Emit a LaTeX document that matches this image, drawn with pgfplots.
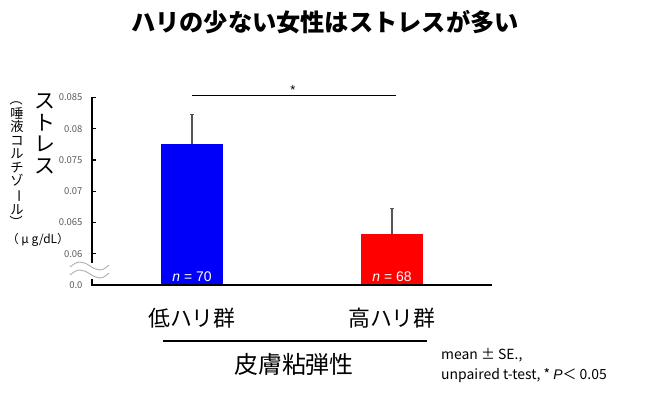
\documentclass[border=0pt]{standalone}
\usepackage{fontspec}
\setmainfont{Noto Sans CJK JP}
\newfontfamily\lat{Liberation Sans}
\usepackage{graphicx}
\usepackage{pgfplots}
\pgfplotsset{compat=1.18}
\usepackage{pgfplotstable}
\definecolor{barblue}{RGB}{0,0,250}
\definecolor{barred}{RGB}{255,0,0}
\definecolor{errgray}{RGB}{85,85,85}
\definecolor{tickgray}{RGB}{90,90,90}
\definecolor{wavegray}{RGB}{175,175,175}

\pgfplotstableread{
x y e
1 0.0776 0.0047
}\lowtab
\pgfplotstableread{
x y e
3 0.0632 0.0040
}\hightab

\begin{document}
\begin{tikzpicture}
\useasboundingbox (0,0) rectangle (650bp,398bp);
\begin{axis}[
  at={(92bp,113bp)}, anchor=south west,
  scale only axis, width=400bp, height=187.5bp,
  xmin=0, xmax=4, ymin=0.055, ymax=0.085,
  axis line style={draw=none},
  xtick=\empty,
  ytick={0.055,0.06,0.065,0.07,0.075,0.08,0.085},
  yticklabels={0.0,0.06,0.065,0.07,0.075,0.08,0.085},
  scaled y ticks=false,
  ytick pos=left, tick align=inside, major tick length=3.5bp,
  every tick/.style={black, line width=1.3bp},
  yticklabel style={font=\fontsize{9.5}{10}\selectfont, text=tickgray, anchor=east, xshift=-6bp},
  /pgf/number format/assume math mode=true,
  clip mode=individual,
  ybar, bar width=62bp,
]
\addplot[fill=barblue, draw=none, bar shift=0pt,
  error bars/.cd, y dir=plus, y explicit,
  error bar style={errgray, line width=1.3bp},
  error mark options={errgray, line width=1.3bp, mark size=2.2bp, rotate=90}]
  table[x=x, y=y, y error=e]{\lowtab};
\addplot[fill=barred, draw=none, bar shift=0pt,
  error bars/.cd, y dir=plus, y explicit,
  error bar style={errgray, line width=1.3bp},
  error mark options={errgray, line width=1.3bp, mark size=2.2bp, rotate=90}]
  table[x=x, y=y, y error=e]{\hightab};
% broken axis lines
\draw[line width=2bp] (axis cs:0,0.085) -- (axis cs:0,0.05856);
\draw[line width=2bp, line join=miter] (axis cs:0,0.05596) -- (axis cs:0,0.055) -- (axis cs:4,0.055);
% significance
\draw[line width=0.8bp] (axis cs:1,0.0853) -- (axis cs:3.04,0.0853);
\node[font=\lat\fontsize{13}{13}\selectfont] at (axis cs:2.01,0.0862) {*};
% n labels
\node[text=white, font=\lat\fontsize{14}{14}\selectfont] at (axis cs:1,0.0563) {\textit{n} = 70};
\node[text=white, font=\lat\fontsize{14}{14}\selectfont] at (axis cs:3,0.0563) {\textit{n} = 68};
\end{axis}
\begin{scope}[x=1bp, y=-1bp, shift={(0,398bp)}]
  % break waves
  \draw[wavegray, line width=0.9bp] (70,267) sin (80,262) cos (90,266) sin (100,270) cos (109,265);
  \draw[wavegray, line width=0.9bp] (70,275) sin (80,270) cos (90,274) sin (100,278) cos (109,273);
  % title
  \node[font=\bfseries\fontsize{24.3}{24.3}\selectfont] at (325,22) {ハリの少ない女性はストレスが多い};
  % y labels
  \node[font=\fontsize{21}{21.5}\selectfont, align=center, inner sep=0pt] at (45,134) {ス\\ト\\レ\\ス};
  \node[font=\fontsize{13.3}{13.6}\selectfont, align=center, inner sep=0pt] at (17,161)
    {\rotatebox[origin=c]{-90}{（}\\唾\\液\\コ\\ル\\チ\\ゾ\\\rotatebox[origin=c]{-90}{ー}\\ル\\\rotatebox[origin=c]{-90}{）}};
  \node[font=\fontsize{12}{12}\selectfont, inner sep=0pt] at (38,240) {（ μ g/dL）};
  % categories
  \node[font=\fontsize{22}{22}\selectfont] at (192,318) {低ハリ群};
  \node[font=\fontsize{22}{22}\selectfont] at (392,318) {高ハリ群};
  \draw[line width=2.2bp] (163,341) -- (427,341);
  \node[font=\fontsize{24}{24}\selectfont] at (294,364) {皮膚粘弾性};
  % note
  \node[anchor=west, inner sep=0pt, font=\fontsize{14}{14}\selectfont] at (441,355) {mean ± SE.,};
  \node[anchor=west, inner sep=0pt, font=\fontsize{14}{14}\selectfont] at (441,376) {unpaired t-test, * {\lat\itshape P}＜ 0.05};
\end{scope}
\end{tikzpicture}
\end{document}
